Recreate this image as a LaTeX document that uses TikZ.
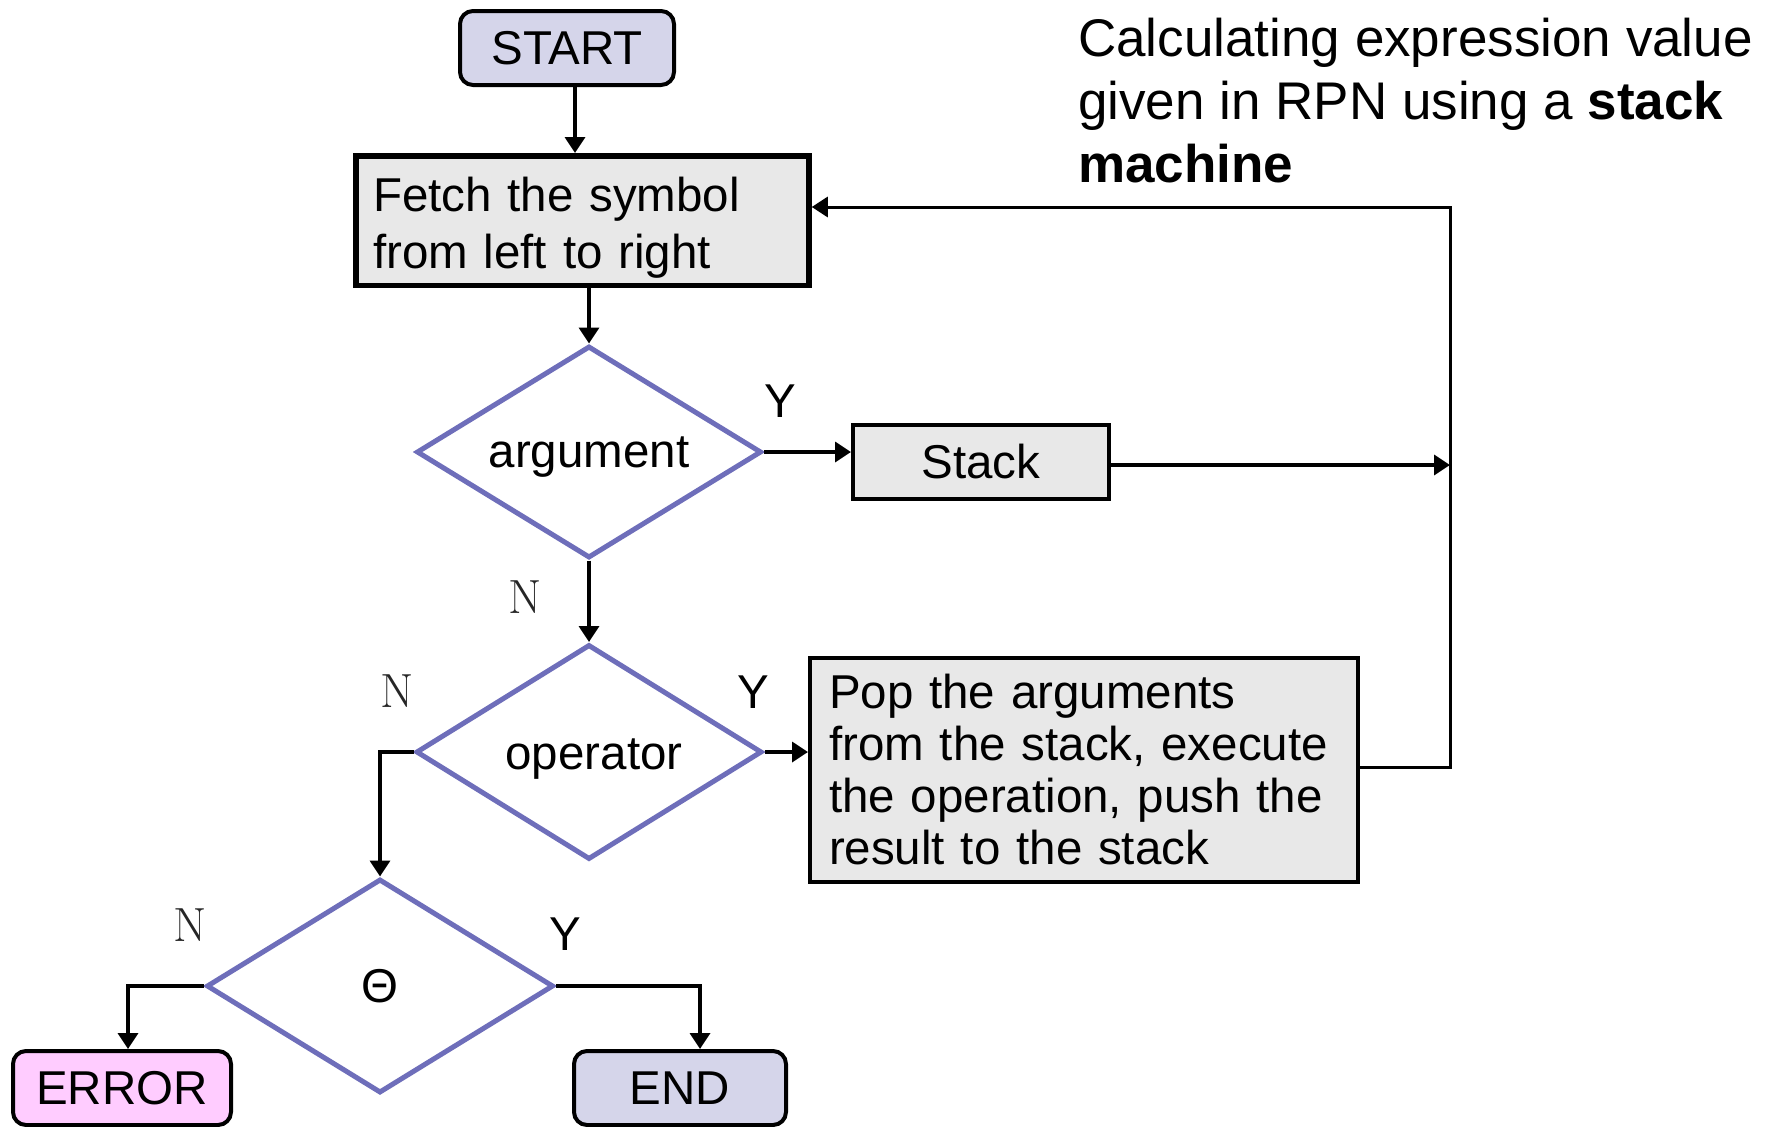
\documentclass[tikz,border=0pt]{standalone}
\usepackage{fontspec}
\setsansfont{Liberation Sans}
\usetikzlibrary{shapes.geometric,arrows.meta}
\definecolor{lav}{HTML}{D5D5EA}
\definecolor{pinkf}{HTML}{FFCCFF}
\definecolor{boxg}{HTML}{E8E8E8}
\definecolor{dia}{HTML}{6E6EBA}
\begin{document}
\begin{tikzpicture}[x=1pt,y=-1pt,
  font=\sffamily\fontsize{47.5}{55}\selectfont,
  term/.style={draw=black, line width=4pt, rounded corners=13pt, minimum width=214pt, minimum height=74pt, inner sep=0pt},
  procbox/.style={draw=black, line width=4pt, fill=boxg, inner sep=0pt},
  decision/.style={diamond, draw=dia, line width=5pt, fill=white, inner sep=0pt, aspect=1.6, text depth=0pt},
  conn/.style={line width=3.5pt},
  arr/.style={conn, -{Triangle[length=16pt,width=20pt]}},
  lbl/.style={inner sep=0pt},
  nlbl/.style={inner sep=0pt, font=\rmfamily\fontsize{48}{48}\selectfont, text=black!85}
]
\useasboundingbox (0,0) rectangle (1773,1127);

% nodes
\node[term, fill=lav] (start) at (567,48) {START};
\node[procbox, line width=5.5pt, text width=419pt, inner xsep=17pt, minimum height=129.5pt, align=left, font=\sffamily\fontsize{47.5}{57}\selectfont] (fetch) at (582.5,220.5) {\rule{0pt}{48.6pt}Fetch the symbol\\from left to right};
\node[decision, minimum width=345pt, minimum height=212pt] (arg) at (589,452) {argument};
\node[procbox, minimum width=256pt, minimum height=74pt] (stack) at (981,462) {Stack};
\node[decision, minimum width=346pt, minimum height=215pt] (op) at (589,752) {\hspace*{10pt}\raisebox{-4pt}{operator}};
\node[procbox, text width=510pt, inner xsep=19pt, minimum height=224pt, align=left, font=\sffamily\fontsize{47.5}{52}\selectfont] (pop) at (1084,770) {Pop the arguments\\from the stack, execute\\the operation, push the\\result to the stack};
\node[decision, minimum width=347pt, minimum height=214pt] (theta) at (380,986) {Θ};
\node[term, fill=pinkf, minimum width=218pt] (error) at (122,1088) {ERROR};
\node[term, fill=lav, minimum width=212pt] (end) at (680,1088) {END};

% title
\node[anchor=north west, inner sep=0pt, align=left, font=\sffamily\fontsize{53}{63}\selectfont] (title) at (1078,18) {Calculating expression value\\given in RPN using a \textbf{stack}\\\textbf{machine}};

% labels
\node[lbl] (y1) at (780,401) {Y};
\node[nlbl] (n1) at (525,597) {N};
\node[nlbl] (n2) at (397,691) {N};
\node[lbl] (y2) at (753,692) {Y};
\node[nlbl] (n3) at (190,925) {N};
\node[lbl] (y3) at (565,934) {Y};

% connectors
\coordinate (ltop) at (1450,207);
\coordinate (lbot) at (1450,767);
\draw[arr] ([xshift=8pt]start.south) -- ([xshift=8pt]start.south |- fetch.north);
\draw[arr] (fetch.south -| arg.north) -- (arg.north);
\draw[arr] (arg.east) -- (arg.east -| stack.west);
\draw[arr] (arg.south) -- (op.north);
\draw[arr] (op.east) -- (op.east -| pop.west);
\draw[arr] ([yshift=-3pt]stack.east) -- ([yshift=-3pt]stack.east -| ltop);
\draw[arr, line width=3pt] (pop.east |- lbot) -- (lbot) -- (ltop) -- (ltop -| fetch.east);
\draw[arr] (op.west) -| (theta.north);
\draw[arr] (theta.west) -| ([xshift=6pt]error.north);
\draw[arr] (theta.east) -| ([xshift=20pt]end.north);
\end{tikzpicture}
\end{document}
